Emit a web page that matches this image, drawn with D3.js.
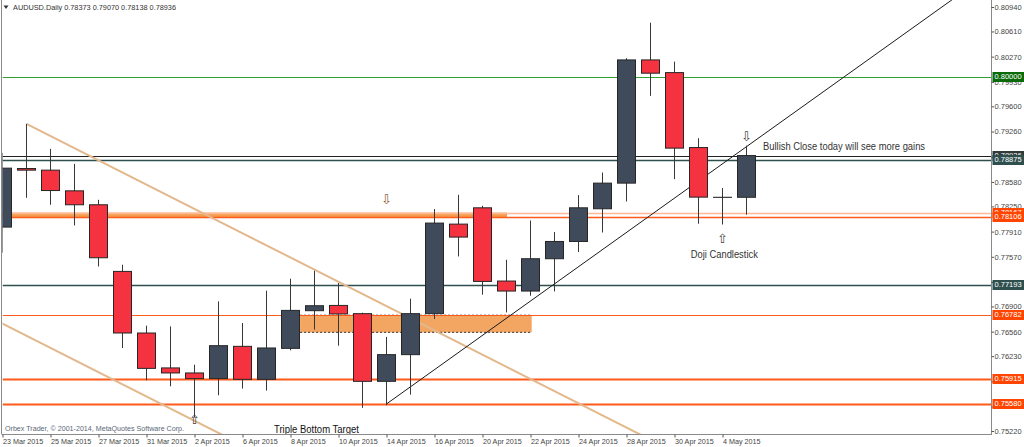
<!DOCTYPE html>
<html><head><meta charset="utf-8">
<script src="https://cdn.jsdelivr.net/npm/d3@7"></script>
<style>
html,body{margin:0;padding:0;background:#fff;overflow:hidden}
svg{display:block;font-family:"Liberation Sans",Arial,sans-serif}
</style></head><body>
<svg id="chart" width="1024" height="447"></svg>
<script>
// ---------------- data ----------------
const symbol = "AUDUSD.Daily";
const dates = ["23 Mar 2015","24 Mar 2015","25 Mar 2015","26 Mar 2015","27 Mar 2015","30 Mar 2015","31 Mar 2015","1 Apr 2015","2 Apr 2015","3 Apr 2015","6 Apr 2015","7 Apr 2015","8 Apr 2015","9 Apr 2015","10 Apr 2015","13 Apr 2015","14 Apr 2015","15 Apr 2015","16 Apr 2015","17 Apr 2015","20 Apr 2015","21 Apr 2015","22 Apr 2015","23 Apr 2015","24 Apr 2015","27 Apr 2015","28 Apr 2015","29 Apr 2015","30 Apr 2015","1 May 2015","4 May 2015","5 May 2015"];
const opens  = [0.77971,0.78761,0.78739,0.78460,0.78272,0.77373,0.76542,0.76071,0.76003,0.75927,0.76362,0.75917,0.76335,0.76843,0.76914,0.76803,0.75890,0.76250,0.76803,0.78011,0.78231,0.77243,0.77108,0.77544,0.77777,0.78218,0.78564,0.80226,0.80055,0.79044,0.78372,0.78373];
const highs  = [0.78972,0.79363,0.79026,0.78824,0.78339,0.77463,0.76641,0.76631,0.76115,0.76968,0.76677,0.77113,0.77274,0.77382,0.77216,0.76816,0.76489,0.77005,0.78214,0.78406,0.78258,0.77530,0.78060,0.77904,0.78402,0.78707,0.80249,0.80728,0.80203,0.79170,0.78497,0.79070];
const lows   = [0.77625,0.78366,0.78272,0.77993,0.77440,0.76340,0.75904,0.75823,0.75401,0.75702,0.75792,0.75765,0.76308,0.76587,0.76371,0.75532,0.75567,0.75711,0.76731,0.77575,0.77059,0.76820,0.77045,0.77103,0.77634,0.77898,0.78316,0.79741,0.78618,0.78016,0.78006,0.78138];
const closes = [0.78766,0.78739,0.78464,0.78272,0.77557,0.76542,0.76065,0.76003,0.75927,0.76371,0.75917,0.76340,0.76847,0.76910,0.76799,0.75890,0.76250,0.76803,0.78025,0.77836,0.77238,0.77108,0.77544,0.77777,0.78231,0.78564,0.80226,0.80047,0.79036,0.78375,0.78373,0.78936];
const dateTicks = ["23 Mar 2015","25 Mar 2015","27 Mar 2015","31 Mar 2015","2 Apr 2015","6 Apr 2015","8 Apr 2015","10 Apr 2015","14 Apr 2015","16 Apr 2015","20 Apr 2015","22 Apr 2015","24 Apr 2015","28 Apr 2015","30 Apr 2015","4 May 2015"];
const priceTicks = [0.80940,0.80610,0.80270,0.79930,0.79600,0.79260,0.78920,0.78580,0.78250,0.77910,0.77570,0.77230,0.76900,0.76560,0.76230,0.75890,0.75550,0.75220];
const levelPrices = [0.80000,0.78936,0.78875,0.78167,0.78106,0.77193,0.76782,0.75915,0.75580];
// zones: [startBar, endBar, topPrice, bottomPrice]
const zoneStart = [-10, 12.4];
const zoneEnd = [21.02, 22.05];
const zoneTop = [0.78167, 0.76782];
const zoneBottom = [0.78106, 0.76551];
// trend lines: two anchors (bar, price)
const trendBar1 = [1, 4, 16];
const trendPrice1 = [0.79363, 0.76014, 0.75585];
const trendBar2 = [16, 8, 26];
const trendPrice2 = [0.76905, 0.75358, 0.77899];
// arrows
const arrowBars = [16, 31, 30, 8];
const arrowPrices = [0.78339, 0.79195, 0.77813, 0.75374];
const arrowDirs = ["down","down","up","up"];
// notes
const noteTexts = ["Bullish Close today will see more gains","Doji Candlestick","Triple Bottom Target"];
const noteBars = [31.69, 28.68, 11.31];
const notePrices = [0.79006, 0.77557, 0.75199];
const headerValues = [0.78373, 0.79070, 0.78138, 0.78936];
const copyright = "Orbex Trader, \u00a9 2001-2014, MetaQuotes Software Corp.";

// ---------------- styles ----------------
const levelStyle = [
  {c:"#30a030", w:1, box:"#0b6b0b"},
  {c:"#222222", w:1, box:"#2f3b3b"},
  {c:"#2f4f4f", w:1.5, box:"#2f4f4f"},
  {c:"#ffb898", w:1.5, box:"#ff4500"},
  {c:"#ff5a1a", w:1.5, box:"#ff4500"},
  {c:"#2f4f4f", w:1.5, box:"#2f4f4f"},
  {c:"#ff5a1a", w:1, box:"#ff4500"},
  {c:"#ff5a1a", w:2, box:"#ff4500"},
  {c:"#ff5a1a", w:2, box:"#ff4500"}
];
const trendStyle = [
  {c:"#e2b88c", w:2, ray:"right"},
  {c:"#e2b88c", w:2, ray:"both"},
  {c:"#1a1a1a", w:1, ray:"right"}
];
const noteStyle = [
  {size:10, len:162, color:"#333"},
  {size:10, len:67, color:"#333"},
  {size:10, len:85, color:"#111"}
];

const svg = d3.select("#chart");
const P = {left:2.5, right:991, top:0, bottom:434};
const x = d3.scaleLinear().domain([0, dates.length-1]).range([2.5, 746.5]);
const y = d3.scaleLinear().domain([0.75220, 0.80940]).range([431, 7]);

svg.append("rect").attr("width",1024).attr("height",447).attr("fill","#fff");
svg.append("defs").append("clipPath").attr("id","pc").append("rect")
  .attr("x",P.left).attr("y",P.top).attr("width",P.right-P.left).attr("height",P.bottom-P.top);

const objs = svg.append("g").attr("clip-path","url(#pc)");

// zones
zoneStart.forEach((s,i)=>{
  const x0=x(s), x1=x(zoneEnd[i]), y0=y(zoneTop[i]), y1=y(zoneBottom[i]);
  objs.append("rect").attr("x",x0).attr("y",y0).attr("width",x1-x0).attr("height",y1-y0)
    .attr("fill", i===0 ? "#f59d4e" : "#f3a662");
  if(i===1){
    [y0,y1].forEach(yy=>objs.append("line").attr("x1",x0).attr("x2",x1).attr("y1",yy).attr("y2",yy)
      .attr("stroke","#333").attr("stroke-width",1).attr("stroke-dasharray","2,2"));
  }
});

// horizontal levels
levelPrices.forEach((p,i)=>{
  const yy=Math.round(y(p))+0.5;
  objs.append("line").attr("x1",P.left).attr("x2",P.right).attr("y1",yy).attr("y2",yy)
    .attr("stroke",levelStyle[i].c).attr("stroke-width",levelStyle[i].w);
});

// trend lines
trendBar1.forEach((b,i)=>{
  const xa=x(b), ya=y(trendPrice1[i]), xb=x(trendBar2[i]), yb=y(trendPrice2[i]);
  const k=(yb-ya)/(xb-xa);
  const xs = trendStyle[i].ray==="both" ? -50 : xa;
  const xe = 1100;
  objs.append("line").attr("x1",xs).attr("y1",ya+k*(xs-xa)).attr("x2",xe).attr("y2",ya+k*(xe-xa))
    .attr("stroke",trendStyle[i].c).attr("stroke-width",trendStyle[i].w);
});

// candles
const cg = svg.append("g").attr("clip-path","url(#pc)");
dates.forEach((d,i)=>{
  const cx=x(i);
  cg.append("line").attr("x1",cx).attr("x2",cx).attr("y1",y(highs[i])).attr("y2",y(lows[i]))
    .attr("stroke","#383838").attr("stroke-width",1);
  const bull = closes[i]>=opens[i];
  const yt=y(Math.max(opens[i],closes[i])), yb=y(Math.min(opens[i],closes[i]));
  cg.append("rect").attr("x",cx-9).attr("y",yt).attr("width",18).attr("height",Math.max(0,yb-yt))
    .attr("fill", bull ? "#3f4b5b" : "#f5323f").attr("stroke","#262626").attr("stroke-width",1);
});

// arrows
arrowBars.forEach((b,i)=>{
  svg.append("text").attr("x",x(b)).attr("y",y(arrowPrices[i])).attr("text-anchor","middle")
    .attr("dominant-baseline","central").attr("font-family","DejaVu Sans").attr("font-size",13)
    .attr("fill", i===0 ? "#8a5a30" : "#444").text(arrowDirs[i]==="down" ? "\u21E9" : "\u21E7");
});

// notes
noteTexts.forEach((t,i)=>{
  svg.append("text").attr("x",x(noteBars[i])).attr("y",y(notePrices[i]))
    .attr("font-size",noteStyle[i].size).attr("fill",noteStyle[i].color)
    .attr("textLength",noteStyle[i].len).attr("lengthAdjust","spacingAndGlyphs").text(t);
});

// frame
svg.append("line").attr("x1",1.5).attr("x2",1.5).attr("y1",0).attr("y2",P.bottom).attr("stroke","#8a8a8a");
svg.append("line").attr("x1",1.5).attr("x2",P.right).attr("y1",P.bottom+0.5).attr("y2",P.bottom+0.5).attr("stroke","#8a8a8a");

// bottom axis
const xAxis = d3.axisBottom(x).tickValues(dateTicks.map(d=>dates.indexOf(d))).tickSize(3).tickFormat(i=>dates[i]);
const gx = svg.append("g").attr("transform",`translate(0,${P.bottom+0.5})`).call(xAxis);
gx.select(".domain").remove();
gx.selectAll(".tick line").attr("stroke","#555");
gx.selectAll(".tick text").attr("text-anchor","start").attr("x",0).attr("y",4).attr("dy","0.71em")
  .attr("font-family","Liberation Sans, Arial, sans-serif").attr("font-size",7.2).attr("fill","#444");

// right axis
svg.append("line").attr("x1",P.right+0.5).attr("x2",P.right+0.5).attr("y1",0).attr("y2",P.bottom+1).attr("stroke","#8a8a8a");
const yAxis = d3.axisRight(y).tickValues(priceTicks).tickSize(2.5).tickFormat(d3.format(".5f"));
const gy = svg.append("g").attr("transform",`translate(${P.right+0.5},0)`).call(yAxis);
gy.select(".domain").remove();
gy.selectAll(".tick line").attr("stroke","#555");
gy.selectAll(".tick text").attr("x",3).attr("font-family","Liberation Sans, Arial, sans-serif")
  .attr("font-size",7.5).attr("fill","#444");

// level labels
levelPrices.forEach((p,i)=>{
  const yy=Math.round(y(p));
  svg.append("rect").attr("x",P.right+1.5).attr("y",yy-5).attr("width",1024-P.right-1.5).attr("height",10)
    .attr("fill",levelStyle[i].box);
  svg.append("text").attr("x",P.right+3.5).attr("y",yy).attr("dy","0.33em").attr("font-size",7.5)
    .attr("fill","#fff").text(d3.format(".5f")(p));
});

// header
svg.append("path").attr("d","M3.5,5.5 L8.5,5.5 L6,9 Z").attr("fill","#333");
svg.append("text").attr("x",13).attr("y",10).attr("font-size",7.5).attr("fill","#333")
  .attr("textLength",163).attr("lengthAdjust","spacingAndGlyphs")
  .text(symbol + "  " + headerValues.map(d3.format(".5f")).join(" "));

// copyright
svg.append("text").attr("x",5).attr("y",431).attr("font-size",7.5).attr("fill","#5a6878")
  .attr("textLength",179).attr("lengthAdjust","spacingAndGlyphs").text(copyright);
</script>
</body></html>
